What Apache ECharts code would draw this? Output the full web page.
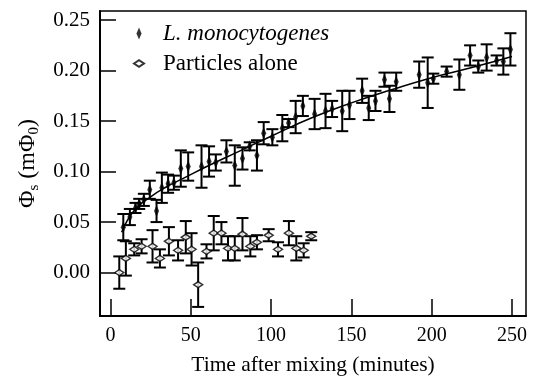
<!DOCTYPE html>
<html>
<head>
<meta charset="utf-8">
<script src="https://cdn.jsdelivr.net/npm/echarts@6/dist/echarts.min.js"></script>
<style>html,body{margin:0;padding:0;background:#fff}#c{width:536px;height:385px}</style>
</head>
<body>
<div id="c"></div>
<script>
var lmX = [8.0,12.1,15.6,17.9,20.8,24.5,28.7,32.0,35.9,39.5,43.8,48.4,56.7,61.4,65.6,72.2,77.4,82.2,86.7,91.2,95.4,100.8,107.0,110.9,115.3,119.8,127.1,133.9,138.0,144.3,148.8,156.7,160.8,165.0,170.6,173.7,177.9,192.2,197.5,201.0,209.3,217.2,223.9,229.0,234.2,240.4,244.6,249.0];
var lmY = [0.045,0.055,0.064,0.068,0.072,0.082,0.061,0.084,0.088,0.089,0.103,0.105,0.105,0.110,0.109,0.120,0.106,0.113,0.125,0.116,0.138,0.134,0.143,0.148,0.154,0.165,0.157,0.160,0.162,0.160,0.166,0.180,0.163,0.170,0.191,0.172,0.189,0.196,0.188,0.192,0.199,0.196,0.215,0.204,0.213,0.210,0.209,0.221];
var lmErr = [0.013,0.008,0.005,0.005,0.006,0.009,0.011,0.015,0.009,0.007,0.018,0.014,0.021,0.015,0.008,0.011,0.020,0.011,0.004,0.015,0.011,0.008,0.013,0.004,0.016,0.010,0.015,0.017,0.008,0.020,0.014,0.012,0.012,0.010,0.007,0.013,0.009,0.013,0.025,0.005,0.005,0.015,0.010,0.006,0.013,0.005,0.013,0.016];

var paX = [5.5,9.6,14.8,19.4,26.2,30.8,36.4,42.1,46.9,50.5,54.6,59.8,64.3,69.1,73.2,77.4,82.2,87.1,91.2,98.5,104.3,111.1,115.7,120.3,125.0];
var paY = [0.000,0.014,0.023,0.026,0.026,0.014,0.031,0.022,0.035,0.023,-0.012,0.021,0.039,0.039,0.024,0.024,0.038,0.026,0.030,0.037,0.023,0.039,0.024,0.022,0.036];
var paErr = [0.016,0.017,0.006,0.007,0.016,0.009,0.014,0.010,0.016,0.016,0.022,0.007,0.017,0.011,0.012,0.012,0.016,0.010,0.007,0.006,0.007,0.012,0.012,0.007,0.004];

var fitX = [7,15,25,35,45,60,80,100,125,150,175,200,225,250];
var fitY = [0.040,0.062,0.075,0.085,0.093,0.105,0.120,0.135,0.153,0.168,0.181,0.193,0.203,0.214];

var xTicks = [0,50,100,150,200,250];
var yTicks = [0.00,0.05,0.10,0.15,0.20,0.25];

function zip(xs, ys) { return xs.map(function (x, i) { return [x, ys[i]]; }); }
function errData(xs, ys, es) { return xs.map(function (x, i) { return [x, ys[i] - es[i], ys[i] + es[i]]; }); }

function errRender(params, api) {
  var x = api.value(0);
  var lo = api.coord([x, api.value(1)]);
  var hi = api.coord([x, api.value(2)]);
  var hw = 6;
  var st = { stroke: '#000', lineWidth: 2 };
  return {
    type: 'group',
    children: [
      { type: 'line', shape: { x1: lo[0], y1: lo[1], x2: hi[0], y2: hi[1] }, style: st },
      { type: 'line', shape: { x1: lo[0] - hw, y1: lo[1], x2: lo[0] + hw, y2: lo[1] }, style: st },
      { type: 'line', shape: { x1: hi[0] - hw, y1: hi[1], x2: hi[0] + hw, y2: hi[1] }, style: st }
    ]
  };
}

var font = '"Liberation Serif", "Times New Roman", serif';
var filledDiamond = 'path://M0,-6L2.5,0L0,6L-2.5,0Z';
var openDiamond = 'path://M-4.5,0L0,-3L4.5,0L0,3Z';

var chart = echarts.init(document.getElementById('c'), null, { renderer: 'canvas' });
chart.setOption({
  animation: false,
  backgroundColor: '#fff',
  grid: { left: 100, right: 10, top: 11, bottom: 69, show: true, borderColor: '#000', borderWidth: 1.5, backgroundColor: 'transparent' },
  legend: {
    orient: 'vertical', left: 133, top: 22, padding: 0, itemGap: 7,
    itemWidth: 10, itemHeight: 12, symbolKeepAspect: true,
    textStyle: { fontFamily: font, fontSize: 23, color: '#000', padding: [0, 0, 0, 14] },
    data: [
      { name: 'L. monocytogenes', icon: filledDiamond, textStyle: { fontStyle: 'italic' } },
      { name: 'Particles alone', icon: openDiamond }
    ]
  },
  xAxis: {
    type: 'value', min: -6.5, max: 258.7, splitNumber: 5,
    name: 'Time after mixing (minutes)', nameLocation: 'middle', nameGap: 38,
    nameTextStyle: { fontFamily: font, fontSize: 21.5, color: '#000' },
    axisLine: { show: true, onZero: false, lineStyle: { color: '#000', width: 2 } },
    axisTick: { show: true, inside: true, length: 17, lineStyle: { color: '#000', width: 1.5 }, customValues: xTicks },
    axisLabel: { fontFamily: font, fontSize: 20, color: '#000', margin: 10, customValues: xTicks },
    splitLine: { show: false }
  },
  yAxis: {
    type: 'value', min: -0.043, max: 0.259, splitNumber: 5,
    name: '{a|Φ}{s|s}{a| (mΦ}{s|0}{a|)}', nameLocation: 'middle', nameGap: 58, nameRotate: 90,
    nameTextStyle: {
      fontFamily: font, fontSize: 24, color: '#000',
      rich: {
        a: { fontFamily: font, fontSize: 24, color: '#000', lineHeight: 28, verticalAlign: 'middle' },
        s: { fontFamily: font, fontSize: 15, color: '#000', lineHeight: 28, verticalAlign: 'bottom', padding: [16, 0, 0, 0] }
      }
    },
    axisLine: { show: true, onZero: false, lineStyle: { color: '#000', width: 2 } },
    axisTick: { show: true, inside: true, length: 16, lineStyle: { color: '#000', width: 1.5 }, customValues: yTicks },
    axisLabel: { fontFamily: font, fontSize: 21, color: '#000', margin: 10,
      customValues: yTicks, formatter: function (v) { return v.toFixed(2); } },
    splitLine: { show: false }
  },
  series: [
    { name: 'fit', type: 'line', data: zip(fitX, fitY), smooth: 0.5, symbol: 'none', lineStyle: { color: '#000', width: 1.5 }, z: 2 },
    { name: 'lmErr', type: 'custom', renderItem: errRender, data: errData(lmX, lmY, lmErr), encode: { x: 0, y: [1, 2] }, z: 3 },
    { name: 'paErr', type: 'custom', renderItem: errRender, data: errData(paX, paY, paErr), encode: { x: 0, y: [1, 2] }, z: 3 },
    { name: 'L. monocytogenes', type: 'scatter', data: zip(lmX, lmY), symbol: filledDiamond, symbolSize: [5, 12],
      itemStyle: { color: '#000' }, z: 4 },
    { name: 'Particles alone', type: 'scatter', data: zip(paX, paY), symbol: openDiamond, symbolSize: [9, 6],
      itemStyle: { color: '#fff', borderColor: '#000', borderWidth: 1.5 }, z: 4 }
  ]
});
</script>
</body>
</html>
